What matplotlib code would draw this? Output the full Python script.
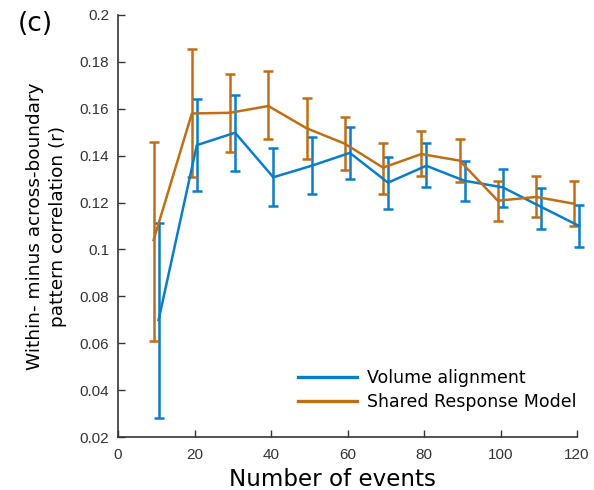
import matplotlib
matplotlib.use("Agg")
import matplotlib.pyplot as plt
from matplotlib.lines import Line2D
import numpy as np

n_events = [10, 20, 30, 40, 50, 60, 70, 80, 90, 100, 110, 120]

va_mean = [0.0699, 0.1445, 0.1498, 0.1308, 0.1357, 0.1412, 0.1285, 0.1357, 0.1293, 0.1265, 0.1182, 0.1100]
va_upper = [0.1112, 0.1640, 0.1659, 0.1431, 0.1481, 0.1524, 0.1396, 0.1453, 0.1379, 0.1343, 0.1261, 0.1190]
va_lower = [0.0280, 0.1250, 0.1335, 0.1185, 0.1235, 0.1299, 0.1173, 0.1265, 0.1207, 0.1180, 0.1086, 0.1009]

srm_mean = [0.1040, 0.1580, 0.1583, 0.1612, 0.1517, 0.1451, 0.1349, 0.1407, 0.1379, 0.1208, 0.1224, 0.1195]
srm_upper = [0.1460, 0.1854, 0.1750, 0.1760, 0.1647, 0.1566, 0.1455, 0.1504, 0.1470, 0.1293, 0.1315, 0.1292]
srm_lower = [0.0610, 0.1310, 0.1414, 0.1470, 0.1386, 0.1338, 0.1238, 0.1312, 0.1289, 0.1123, 0.1138, 0.1100]

blue = "#0B7CC8"
orange = "#BE6E16"

fig = plt.figure(figsize=(5.94, 4.90), dpi=100)
ax = fig.add_axes([0.1987, 0.108, 0.7727, 0.8614])

x = np.array(n_events, dtype=float)

def draw(xs, mean, lo, hi, color, label):
    mean = np.array(mean); lo = np.array(lo); hi = np.array(hi)
    c = ax.errorbar(xs, mean, yerr=[mean - lo, hi - mean], color=color, lw=1.8,
                    elinewidth=1.8, capsize=3.8, capthick=1.8, label=label)
    for art in c.get_children():
        art.set_clip_on(False)

draw(x + 0.6, va_mean, va_lower, va_upper, blue, "Volume alignment")
draw(x - 0.7, srm_mean, srm_lower, srm_upper, orange, "Shared Response Model")

ax.set_xlim(0, 120)
ax.set_ylim(0.02, 0.2)
ax.set_xticks([0, 20, 40, 60, 80, 100, 120])
ax.set_yticks([0.02, 0.04, 0.06, 0.08, 0.1, 0.12, 0.14, 0.16, 0.18, 0.2])
ax.set_yticklabels(["0.02", "0.04", "0.06", "0.08", "0.1", "0.12", "0.14", "0.16", "0.18", "0.2"])
for s in ["top", "right"]:
    ax.spines[s].set_visible(False)
for s in ["left", "bottom"]:
    ax.spines[s].set_color("#333333")
    ax.spines[s].set_linewidth(1.2)
ax.tick_params(direction="in", length=5, width=1.0, colors="#333333",
               labelsize=11, labelcolor="#333333")
ax.tick_params(axis="y", pad=6.5)
ax.tick_params(axis="x", pad=8)
for lab in ax.get_xticklabels() + ax.get_yticklabels():
    lab.set_family("Liberation Sans")

ax.set_xlabel("Number of events", fontsize=16.6, family="DejaVu Sans")
ax.xaxis.set_label_coords(0.468, -0.074)
ax.set_ylabel("Within- minus across-boundary\npattern correlation (r)", fontsize=13.3,
              family="DejaVu Sans", labelpad=9, linespacing=1.35)

labels = ["Volume alignment", "Shared Response Model"]
h2 = [Line2D([], [], color=blue, lw=2.4), Line2D([], [], color=orange, lw=2.4)]
ax.legend(h2, labels, loc="lower right", bbox_to_anchor=(1.032, 0.024), frameon=False,
          handlelength=3.4, handletextpad=0.55, labelspacing=0.35,
          prop={"family": "DejaVu Sans", "size": 12.5})

fig.text(0.03, 0.951, "(c)", fontsize=19, family="DejaVu Sans", va="center")

fig.savefig("out.png", dpi=100)
